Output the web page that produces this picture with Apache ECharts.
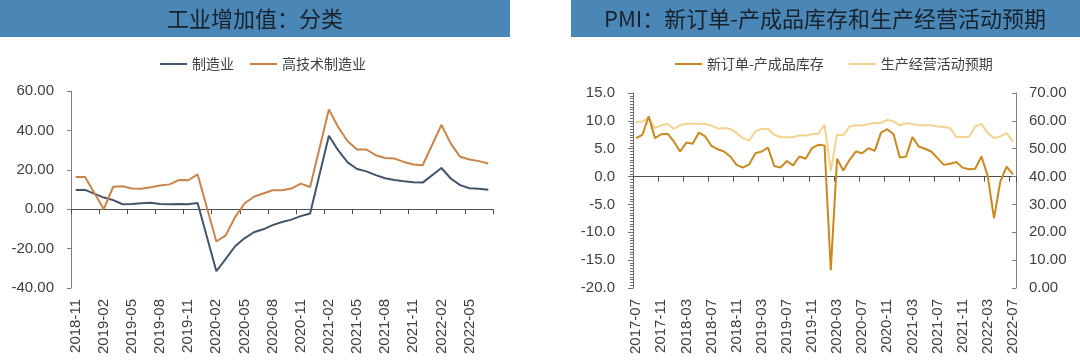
<!DOCTYPE html>
<html>
<head>
<meta charset="utf-8">
<script src="https://cdn.jsdelivr.net/npm/echarts@6/dist/echarts.min.js"></script>
<style>
html,body{margin:0;padding:0;background:#ffffff;}
#main{width:1080px;height:360px;}
</style>
</head>
<body>
<div id="main"></div>
<script>
// ---------- Left panel: 工业增加值：分类 ----------
const leftTitle = '工业增加值：分类';
const leftMonths = ['2018-11','2018-12','2019-01','2019-02','2019-03','2019-04','2019-05','2019-06','2019-07','2019-08','2019-09','2019-10','2019-11','2019-12',
  '2020-01','2020-02','2020-03','2020-04','2020-05','2020-06','2020-07','2020-08','2020-09','2020-10','2020-11','2020-12',
  '2021-01','2021-02','2021-03','2021-04','2021-05','2021-06','2021-07','2021-08','2021-09','2021-10','2021-11','2021-12',
  '2022-01','2022-02','2022-03','2022-04','2022-05','2022-06','2022-07'];
const manufacturing = [9.8, 9.8, null, 5.9, 4.6, 2.5, 2.7, 3.0, 3.3, 2.6, 2.5, 2.6, 2.5, 3.1,
  null, -31.5, -25.2, -18.8, -14.8, -11.7, -10.2, -8.1, -6.5, -5.3, -3.5, -2.2,
  null, 37.3, 29.8, 23.8, 20.4, 19.2, 17.3, 15.7, 14.8, 14.2, 13.7, 13.5,
  null, 20.9, 15.6, 12.2, 10.6, 10.4, 9.9];
const highTech = [16.4, 16.4, null, 0.0, 11.4, 11.6, 10.5, 10.4, 11.1, 12.0, 12.6, 14.8, 14.7, 17.7,
  null, -16.4, -13.3, -4.0, 2.9, 6.3, 8.0, 9.6, 9.6, 10.5, 13.0, 11.3,
  null, 50.6, 41.6, 34.5, 30.3, 30.3, 27.4, 26.0, 25.7, 24.0, 22.7, 22.3,
  null, 42.8, 33.3, 26.6, 25.2, 24.4, 23.2];

// ---------- Right panel: PMI ----------
const rightTitle = 'PMI：新订单-产成品库存和生产经营活动预期';
const rightMonths = ['2017-07','2017-08','2017-09','2017-10','2017-11','2017-12',
  '2018-01','2018-02','2018-03','2018-04','2018-05','2018-06','2018-07','2018-08','2018-09','2018-10','2018-11','2018-12',
  '2019-01','2019-02','2019-03','2019-04','2019-05','2019-06','2019-07','2019-08','2019-09','2019-10','2019-11','2019-12',
  '2020-01','2020-02','2020-03','2020-04','2020-05','2020-06','2020-07','2020-08','2020-09','2020-10','2020-11','2020-12',
  '2021-01','2021-02','2021-03','2021-04','2021-05','2021-06','2021-07','2021-08','2021-09','2021-10','2021-11','2021-12',
  '2022-01','2022-02','2022-03','2022-04','2022-05','2022-06','2022-07'];
const orderMinusInventory = [6.9, 7.5, 10.8, 6.9, 7.6, 7.7, 6.3, 4.5, 6.1, 5.9,
  7.9, 7.2, 5.5, 4.9, 4.5, 3.6, 2.1, 1.6, 2.2, 4.2,
  4.5, 5.2, 1.9, 1.6, 2.8, 2.0, 3.6, 3.2, 5.1, 5.7,
  5.6, -16.8, 3.2, 1.1, 3.0, 4.5, 4.2, 5.1, 4.6, 7.9,
  8.5, 7.6, 3.4, 3.6, 7.1, 5.4, 5.0, 4.5, 3.3, 2.1,
  2.3, 2.6, 1.6, 1.3, 1.4, 3.6, 0.1, -7.5, -0.9, 1.8, 0.4];
const businessExpectation = [59.6, 59.8, 61.0, 57.4, 58.4, 58.9, 57.1, 58.4, 59.0, 59.0,
  59.0, 58.9, 58.3, 57.2, 57.4, 57.1, 55.6, 53.8, 53.0, 56.2,
  57.1, 57.1, 55.0, 54.2, 54.1, 54.1, 54.8, 54.7, 55.3, 55.3,
  58.6, 42.1, 55.0, 54.8, 58.0, 58.4, 58.3, 58.9, 59.2, 59.2,
  60.4, 59.8, 58.4, 59.2, 58.9, 58.4, 58.4, 58.4, 58.0, 57.8,
  57.4, 54.2, 54.2, 54.2, 58.0, 58.9, 55.6, 53.8, 54.4, 55.6, 52.6];

const S1 = '制造业', S2 = '高技术制造业', S3 = '新订单-产成品库存', S4 = '生产经营活动预期';
const C1 = '#44546A', C2 = '#C9844C', C3 = '#C8891F', C4 = '#F4D28F';

const numFont = "'Liberation Sans', Arial, sans-serif";
const cjkFont = "'Noto Sans CJK SC', sans-serif";
const labelColor = '#404040';

const chart = echarts.init(document.getElementById('main'), null, {renderer: 'canvas'});

function labelAxis(grid, data, interval) {
  return {
    type: 'category', gridIndex: grid, data: data, position: 'bottom', boundaryGap: true,
    axisLine: {show: false, onZero: false}, axisTick: {show: false},
    axisLabel: {interval: interval, rotate: 90, fontSize: 15, color: labelColor, fontFamily: numFont, margin: 11},
    splitLine: {show: false}
  };
}
function zeroAxis(grid, data, interval) {
  return {
    type: 'category', gridIndex: grid, data: data, position: 'bottom', boundaryGap: true,
    axisLine: {show: true, onZero: true, lineStyle: {color: '#505050', width: 1}},
    axisTick: {show: true, interval: interval, length: 5, lineStyle: {color: '#505050'}},
    axisLabel: {show: false}, splitLine: {show: false}
  };
}

const option = {
  backgroundColor: '#ffffff',
  animation: false,
  graphic: [
    {type: 'rect', left: 0, top: 0, shape: {width: 510, height: 37}, style: {fill: '#4A87B6'}, z: 0},
    {type: 'rect', left: 571, top: 0, shape: {width: 509, height: 37}, style: {fill: '#4A87B6'}, z: 0},
    {type: 'text', x: 255, y: 19, z: 1, style: {text: leftTitle, fill: '#18222C', font: "22px 'Noto Sans CJK SC', sans-serif", textAlign: 'center', textVerticalAlign: 'middle'}},
    {type: 'text', x: 825, y: 19, z: 1, style: {text: rightTitle, fill: '#18222C', font: "22px 'Noto Sans CJK SC', sans-serif", textAlign: 'center', textVerticalAlign: 'middle'}}
  ],
  legend: [
    {data: [S1, S2], left: 155, top: 52, itemWidth: 27, itemHeight: 2, itemGap: 16, icon: 'rect',
     textStyle: {fontSize: 14, color: labelColor, fontFamily: cjkFont}},
    {data: [S3, S4], left: 670, top: 52, itemWidth: 27, itemHeight: 2, itemGap: 25, icon: 'rect',
     textStyle: {fontSize: 14, color: labelColor, fontFamily: cjkFont}}
  ],
  grid: [
    {left: 71, top: 91, width: 422, height: 197, containLabel: false},
    {left: 633, top: 93, width: 383, height: 195, containLabel: false}
  ],
  xAxis: [
    labelAxis(0, leftMonths, 2),
    zeroAxis(0, leftMonths, 2),
    labelAxis(1, rightMonths, 3),
    zeroAxis(1, rightMonths, 3)
  ],
  yAxis: [
    {type: 'value', gridIndex: 0, min: -40, max: 60, interval: 20, position: 'left',
     axisLine: {show: true, onZero: false, lineStyle: {color: '#7F7F7F'}},
     axisTick: {show: true, length: 4, lineStyle: {color: '#7F7F7F'}},
     axisLabel: {formatter: v => v.toFixed(2), fontSize: 15, color: labelColor, fontFamily: numFont, margin: 17},
     splitLine: {show: false}},
    {type: 'value', gridIndex: 1, min: -20, max: 15, interval: 5, position: 'left',
     axisLine: {show: true, onZero: false, lineStyle: {color: '#6F6F6F'}},
     axisTick: {show: true, length: 5, lineStyle: {color: '#6F6F6F'}},
     minorTick: {show: true, splitNumber: 10, length: 3, lineStyle: {color: '#6F6F6F', width: 1}},
     axisLabel: {formatter: v => v.toFixed(1), fontSize: 15, color: labelColor, fontFamily: numFont, margin: 18},
     splitLine: {show: false}},
    {type: 'value', gridIndex: 1, min: 0, max: 70, interval: 10, position: 'right',
     axisLine: {show: true, onZero: false, lineStyle: {color: '#7F7F7F'}},
     axisTick: {show: true, inside: true, length: 4, lineStyle: {color: '#7F7F7F'}},
     axisLabel: {formatter: v => v.toFixed(2), fontSize: 15, color: labelColor, fontFamily: numFont, margin: 13},
     splitLine: {show: false}}
  ],
  series: [
    {name: S1, type: 'line', xAxisIndex: 0, yAxisIndex: 0, data: manufacturing, connectNulls: true,
     symbol: 'none', lineStyle: {color: C1, width: 2}, itemStyle: {color: C1}, z: 3},
    {name: S2, type: 'line', xAxisIndex: 0, yAxisIndex: 0, data: highTech, connectNulls: true,
     symbol: 'none', lineStyle: {color: C2, width: 2}, itemStyle: {color: C2}, z: 3},
    {name: S3, type: 'line', xAxisIndex: 2, yAxisIndex: 1, data: orderMinusInventory,
     symbol: 'none', lineStyle: {color: C3, width: 2}, itemStyle: {color: C3}, z: 4},
    {name: S4, type: 'line', xAxisIndex: 2, yAxisIndex: 2, data: businessExpectation,
     symbol: 'none', lineStyle: {color: C4, width: 2}, itemStyle: {color: C4}, z: 3}
  ]
};
chart.setOption(option);
</script>
</body>
</html>
